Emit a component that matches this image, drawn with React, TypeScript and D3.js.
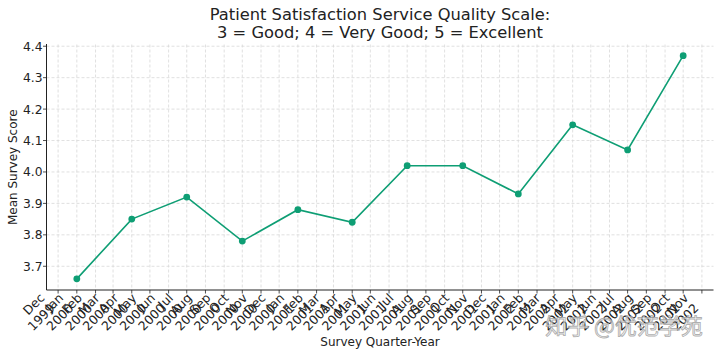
import React from "react";
import * as d3 from "d3";

const dates: string[] = [
  "2000-01-01", "2000-04-01", "2000-07-01", "2000-10-01",
  "2001-01-01", "2001-04-01", "2001-07-01", "2001-10-01",
  "2002-01-01", "2002-04-01", "2002-07-01", "2002-10-01",
];
const scores: number[] = [3.66, 3.85, 3.92, 3.78, 3.88, 3.84, 4.02, 4.02, 3.93, 4.15, 4.07, 4.37];
const yTicks: number[] = [3.7, 3.8, 3.9, 4.0, 4.1, 4.2, 4.3, 4.4];
const titleLines: string[] = [
  "Patient Satisfaction Service Quality Scale:",
  "3 = Good; 4 = Very Good; 5 = Excellent",
];
const xLabel = "Survey Quarter-Year";
const yLabel = "Mean Survey Score";
const watermark = "知乎 @优范学苑";

const W = 720;
const H = 356;
const left = 46.5;
const right = 713.5;
const top = 44.5;
const bottom = 290;
const color = "#0e9e74";
const font = "'DejaVu Sans', sans-serif";

export default function App() {
  const parsed = dates.map((d) => d3.timeParse("%Y-%m-%d")(d) as Date);
  const t0 = +parsed[0];
  const t1 = +parsed[parsed.length - 1];
  const pad = (t1 - t0) * 0.05;
  const x = d3.scaleTime().domain([new Date(t0 - pad), new Date(t1 + pad)]).range([left, right]);
  const yMin = d3.min(scores) as number;
  const yMax = d3.max(scores) as number;
  const yPad = (yMax - yMin) * 0.05;
  const y = d3.scaleLinear().domain([yMin - yPad, yMax + yPad]).range([bottom, top]);

  const months = d3.timeMonth.range(new Date(1999, 11, 1), new Date(2002, 11, 1));
  const fmtM = d3.timeFormat("%b");
  const fmtY = d3.timeFormat("%Y");

  const line = d3
    .line<number>()
    .x((_, i) => x(parsed[i]))
    .y((d) => y(d));

  const tickLen = 3.5;
  const fs = 12.5;
  const lh = 14.5;

  return (
    <svg width={W} height={H} style={{ position: "absolute", left: 0, top: 0, background: "#fff" }} fontFamily={font}>
      <rect width={W} height={H} fill="#fff" />
      {/* grid */}
      {months.map((m, i) => (
        <line key={"gx" + i} x1={x(m)} x2={x(m)} y1={top} y2={bottom} stroke="#d8d8d8" strokeWidth={0.8} strokeDasharray="3 2" />
      ))}
      {yTicks.map((t, i) => (
        <line key={"gy" + i} x1={left} x2={right} y1={y(t)} y2={y(t)} stroke="#d8d8d8" strokeWidth={0.8} strokeDasharray="3 2" />
      ))}
      {/* axes */}
      <line x1={left} x2={left} y1={top - 0.5} y2={bottom} stroke="#222" strokeWidth={1} />
      <line x1={left} x2={right} y1={bottom} y2={bottom} stroke="#222" strokeWidth={1} />
      {yTicks.map((t, i) => (
        <g key={"yt" + i}>
          <line x1={left - tickLen} x2={left} y1={y(t)} y2={y(t)} stroke="#222" strokeWidth={0.8} />
          <text x={42.5} y={y(t)} dy="0.36em" textAnchor="end" fontSize={12.3} fill="#222">
            {t.toFixed(1)}
          </text>
        </g>
      ))}
      {months.map((m, i) => {
        const tx = x(m);
        return (
          <g key={"xt" + i}>
            <line x1={tx} x2={tx} y1={bottom} y2={bottom + tickLen} stroke="#222" strokeWidth={0.8} />
            <text transform={`translate(${tx - 2.5},${309}) rotate(-45)`} textAnchor="end" fontSize={fs} fill="#222">
              <tspan x={0} y={-lh}>{fmtM(m)}</tspan>
              <tspan x={0} y={0}>{fmtY(m)}</tspan>
            </text>
          </g>
        );
      })}
      {/* data */}
      <path d={line(scores) || ""} fill="none" stroke={color} strokeWidth={1.6} />
      {scores.map((v, i) => (
        <circle key={"p" + i} cx={x(parsed[i])} cy={y(v)} r={3.4} fill={color} />
      ))}
      {/* labels */}
      {titleLines.map((tl, i) => (
        <text key={"t" + i} x={(left + right) / 2} y={20 + i * 17.8} textAnchor="middle" fontSize={16.3} fill="#222">
          {tl}
        </text>
      ))}
      <text x={(left + right) / 2} y={346} textAnchor="middle" fontSize={12} fill="#222">
        {xLabel}
      </text>
      <text transform={`translate(16.5,${(top + bottom) / 2}) rotate(-90)`} textAnchor="middle" fontSize={12} fill="#222">
        {yLabel}
      </text>
      <text x={624} y={334} textAnchor="middle" fontSize={22} fontFamily="'Noto Sans CJK SC', sans-serif"
        fill="#ffffff" fillOpacity={0.6} stroke="#9a9a9a" strokeWidth={0.9} strokeOpacity={0.8}>
        {watermark}
      </text>
    </svg>
  );
}
